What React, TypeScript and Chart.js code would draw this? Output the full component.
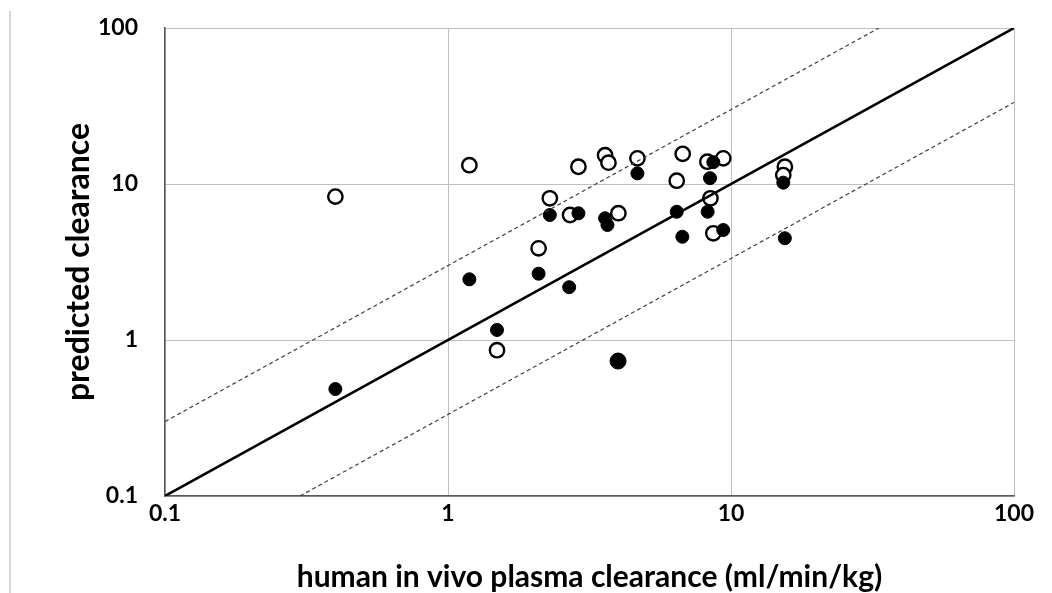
import React, { useEffect, useRef } from "react";
import { Chart, registerables } from "chart.js";

Chart.register(...registerables);

// Open circles
const openX = [0.4, 1.19, 1.49, 2.09, 2.29, 2.7, 2.89, 3.59, 3.69, 4.0, 4.67, 6.43, 6.75, 8.25, 8.46, 8.66, 9.39, 15.5, 15.3];
const openY = [8.3, 13.2, 0.86, 3.87, 8.1, 6.33, 12.9, 15.3, 13.7, 6.5, 14.6, 10.5, 15.6, 13.9, 8.1, 4.83, 14.6, 12.9, 11.4];

// Filled circles
const filledX = [0.4, 1.19, 1.49, 2.09, 2.29, 2.68, 2.89, 3.59, 3.66, 4.67, 6.43, 6.73, 8.43, 8.66, 8.27, 9.39, 15.3, 15.5];
const filledY = [0.485, 2.45, 1.16, 2.66, 6.33, 2.18, 6.49, 6.03, 5.46, 11.7, 6.64, 4.59, 10.9, 13.8, 6.64, 5.07, 10.2, 4.49];

// Filled circle drawn larger
const bigX = [3.99];
const bigY = [0.733];

// Reference lines: identity and 3-fold bounds
const unityX = [0.1, 100];
const unityY = [0.1, 100];
const upperX = [0.1, 33.33];
const upperY = [0.3, 100];
const lowerX = [0.3, 100];
const lowerY = [0.1, 33.33];

const tickValues = [0.1, 1, 10, 100];
const tickLabels = ["0.1", "1", "10", "100"];

const xTitle = "human in vivo plasma clearance (ml/min/kg)";
const yTitle = "predicted clearance";

const FONT = "Lato, 'Open Sans', sans-serif";

const pts = (xs: number[], ys: number[]) => xs.map((x, i) => ({ x, y: ys[i] }));

export default function App() {
  const ref = useRef<HTMLCanvasElement | null>(null);

  useEffect(() => {
    if (!ref.current) return;
    const setTicks = (axis: any) => {
      axis.ticks = tickValues.map((v) => ({ value: v }));
    };
    const labelCb = (value: any) => {
      const i = tickValues.findIndex((t) => Math.abs(t - Number(value)) < 1e-9);
      return i >= 0 ? tickLabels[i] : "";
    };
    const chart = new Chart(ref.current, {
      type: "scatter",
      data: {
        datasets: [
          {
            data: pts(unityX, unityY),
            showLine: true,
            borderColor: "#000000",
            borderWidth: 2.5,
            pointRadius: 0,
            order: 0,
          },
          {
            data: pts(upperX, upperY),
            showLine: true,
            borderColor: "#404040",
            borderWidth: 1.2,
            borderDash: [4, 3],
            pointRadius: 0,
            order: 0,
          },
          {
            data: pts(lowerX, lowerY),
            showLine: true,
            borderColor: "#404040",
            borderWidth: 1.2,
            borderDash: [4, 3],
            pointRadius: 0,
            order: 0,
          },
          {
            data: pts(bigX, bigY),
            pointRadius: 8,
            pointBackgroundColor: "#000000",
            pointBorderColor: "#000000",
            pointBorderWidth: 1,
            order: 1,
          },
          {
            data: pts(filledX, filledY),
            pointRadius: 6.5,
            pointBackgroundColor: "#000000",
            pointBorderColor: "#000000",
            pointBorderWidth: 1,
            order: 1,
          },
          {
            data: pts(openX, openY),
            pointRadius: 7.2,
            pointBackgroundColor: "#ffffff",
            pointBorderColor: "#000000",
            pointBorderWidth: 2.4,
            order: 2,
          },
        ],
      },
      options: {
        animation: false,
        responsive: false,
        events: [],
        layout: { autoPadding: false, padding: { top: 28, right: 38, left: 0, bottom: 0 } },
        plugins: {
          legend: { display: false },
          tooltip: { enabled: false },
        },
        scales: {
          x: {
            type: "logarithmic",
            min: 0.1,
            max: 100,
            afterBuildTicks: setTicks,
            afterFit: (axis: any) => {
              axis.height = 97;
            },
            grid: { color: "#bfbfbf", lineWidth: 1, drawTicks: false },
            border: { display: true, color: "#595959", width: 1.5 },
            ticks: {
              callback: labelCb,
              padding: 4,
              color: "#000000",
              maxRotation: 0,
              autoSkip: false,
              font: { family: FONT, size: 23, weight: "bold" },
            },
            title: {
              display: true,
              text: xTitle,
              color: "#000000",
              padding: { top: 0, bottom: 1 },
              font: { family: FONT, size: 30, weight: "bold", lineHeight: 1 },
            },
          },
          y: {
            type: "logarithmic",
            min: 0.1,
            max: 100,
            afterBuildTicks: setTicks,
            afterFit: (axis: any) => {
              axis.width = 165;
            },
            grid: {
              color: "#bfbfbf",
              lineWidth: 1,
              drawTicks: true,
              tickLength: 25,
              tickColor: "rgba(0,0,0,0)",
            },
            border: { display: true, color: "#595959", width: 1.5 },
            ticks: {
              callback: labelCb,
              padding: 2,
              color: "#000000",
              autoSkip: false,
              font: { family: FONT, size: 23, weight: "bold" },
            },
            title: {
              display: true,
              text: yTitle,
              color: "#000000",
              padding: { top: 63, bottom: 0 },
              font: { family: FONT, size: 32, weight: "bold", lineHeight: 1 },
            },
          },
        },
      },
    } as any);
    return () => chart.destroy();
  }, []);

  return (
    <div style={{ position: "fixed", left: 0, top: 0, width: 1052, height: 593, background: "#ffffff" }}>
      <div style={{ position: "absolute", left: 9, top: 11, width: 2, height: 582, background: "#d6d6d6" }} />
      <canvas ref={ref} width={1052} height={593} style={{ position: "absolute", left: 0, top: 0 }} />
    </div>
  );
}
